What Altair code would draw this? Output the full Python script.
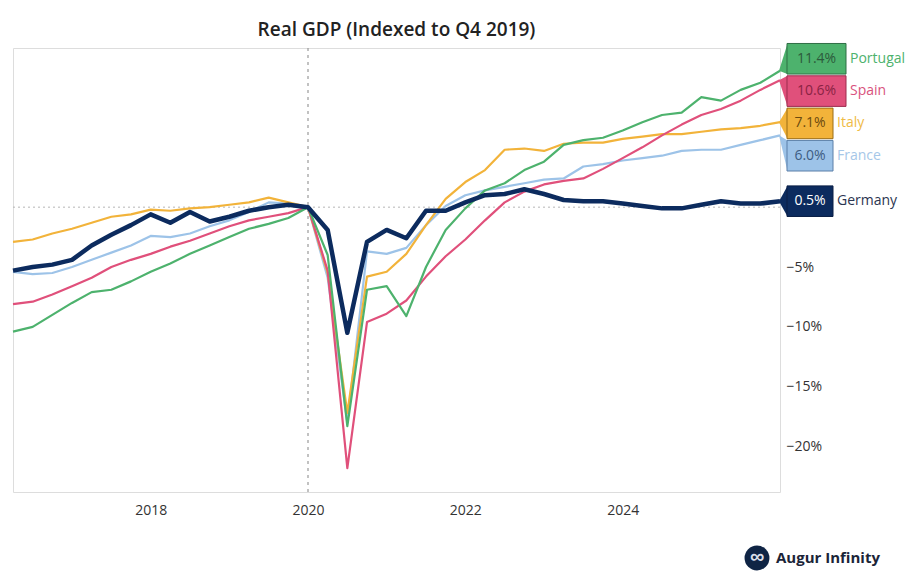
import altair as alt
import pandas as pd

# ---------------- data ----------------
countries = ["Portugal", "Spain", "Italy", "France", "Germany"]
line_colors = ["#4db26d", "#e0507b", "#f2b33a", "#9dc3e8", "#0c2b5e"]
name_colors = ["#4db26d", "#d9527d", "#efbb45", "#a6c7e8", "#2b3550"]
box_text_colors = ["#2c5a3b", "#8a2344", "#6b4a0e", "#3e5d82", "#ffffff"]
box_stroke_colors = ["#2f6e45", "#9b2c4e", "#9a6d14", "#5a7fa8", "#0a1f45"]

# quarterly observations Q1 2016 ... Q4 2025, % vs Q4 2019
portugal = [-10.4, -10.0, -9.0, -8.0, -7.1, -6.9, -6.2, -5.4, -4.7, -3.9,
            -3.2, -2.5, -1.8, -1.4, -0.9, 0.0, -4.0, -18.3, -6.9, -6.6,
            -9.1, -5.0, -1.9, -0.1, 1.4, 2.0, 3.1, 3.8, 5.2, 5.6,
            5.8, 6.4, 7.1, 7.7, 7.9, 9.2, 8.9, 9.8, 10.4, 11.4]
spain = [-8.1, -7.9, -7.3, -6.6, -5.9, -5.0, -4.4, -3.9, -3.3, -2.8,
         -2.2, -1.6, -1.1, -0.8, -0.5, 0.0, -5.3, -21.8, -9.6, -8.9,
         -7.8, -5.8, -4.1, -2.7, -1.1, 0.4, 1.3, 1.9, 2.2, 2.4,
         3.2, 4.1, 5.0, 6.0, 6.9, 7.7, 8.2, 8.9, 9.8, 10.6]
italy = [-2.9, -2.7, -2.2, -1.8, -1.3, -0.8, -0.6, -0.2, -0.3, -0.1,
         0.0, 0.2, 0.4, 0.8, 0.4, 0.0, -5.5, -17.2, -5.8, -5.4,
         -3.9, -1.5, 0.7, 2.1, 3.1, 4.8, 4.9, 4.7, 5.3, 5.4,
         5.4, 5.7, 5.9, 6.1, 6.1, 6.3, 6.5, 6.6, 6.8, 7.1]
france = [-5.4, -5.6, -5.5, -5.0, -4.4, -3.8, -3.2, -2.4, -2.5, -2.2,
          -1.6, -1.1, -0.4, 0.4, 0.3, 0.0, -5.9, -18.0, -3.7, -3.9,
          -3.4, -1.5, 0.1, 1.0, 1.4, 1.7, 2.0, 2.3, 2.4, 3.4,
          3.6, 3.9, 4.1, 4.3, 4.7, 4.8, 4.8, 5.2, 5.6, 6.0]
germany = [-5.3, -5.0, -4.8, -4.4, -3.2, -2.3, -1.5, -0.6, -1.3, -0.4,
           -1.2, -0.8, -0.3, 0.0, 0.2, 0.0, -1.9, -10.5, -2.9, -1.9,
           -2.6, -0.3, -0.3, 0.4, 1.0, 1.1, 1.5, 1.1, 0.6, 0.5,
           0.5, 0.3, 0.1, -0.1, -0.1, 0.2, 0.5, 0.3, 0.3, 0.5]
end_labels = ["11.4%", "10.6%", "7.1%", "6.0%", "0.5%"]
x_ticks = [2018, 2020, 2022, 2024]
y_ticks = [-20, -15, -10, -5]

series = [portugal, spain, italy, france, germany]
draw_order = ["France", "Italy", "Spain", "Portugal"]

# ---------------- layout constants ----------------
W, H = 767, 444
X_MIN, X_MAX = 2016.25, 2026.0
Y_MIN, Y_MAX = -23.8, 13.3
px_x = W / (X_MAX - X_MIN)
px_y = H / (Y_MAX - Y_MIN)

n = len(portugal)
t_vals = [X_MIN + 0.25 * i for i in range(n)]  # quarter-end positions

rows = []
for c, vals in zip(countries, series):
    for t, v in zip(t_vals, vals):
        rows.append({"country": c, "t": t, "v": v})
df = pd.DataFrame(rows)

# label placement (dodge)
ends = [s[-1] for s in series]
order = sorted(range(len(countries)), key=lambda k: -ends[k])
pos = [ends[k] for k in order]
G = 2.7
for _ in range(300):
    for j in range(len(pos) - 1):
        d = pos[j] - pos[j + 1]
        if d < G:
            s = (G - d) / 2
            pos[j] += s
            pos[j + 1] -= s
top_limit = 12.4
pos[0] = min(pos[0], top_limit)
for j in range(1, len(pos)):
    pos[j] = min(pos[j], pos[j - 1] - G)
label_y = {order[j]: pos[j] for j in range(len(pos))}

half_h = 15.3 / px_y
lab_rows, tri_rows = [], []
for k, c in enumerate(countries):
    ly = label_y[k]
    w_px = 13 * len(end_labels[k]) - 6
    left = X_MAX + 7 / px_x
    right = left + w_px / px_x
    lab_rows.append({
        "country": c, "ly": ly, "top": ly + half_h, "bot": ly - half_h,
        "left": left, "right": right, "mid": (left + right) / 2,
        "name_x": right + 4 / px_x, "txt": end_labels[k],
    })
    tri_rows.append({"country": c, "t": X_MAX - 1 / px_x, "lo": ends[k], "hi": ends[k]})
    tri_rows.append({"country": c, "t": left + 0.5 / px_x, "lo": ly - half_h, "hi": ly + half_h})
lab_df = pd.DataFrame(lab_rows)
tri_df = pd.DataFrame(tri_rows)

xscale = alt.Scale(domain=[X_MIN, X_MAX], nice=False, zero=False)
yscale = alt.Scale(domain=[Y_MIN, Y_MAX], nice=False, zero=False)
cscale = alt.Scale(domain=countries, range=line_colors)

x_axis = alt.Axis(values=x_ticks, format="d", title=None, grid=False, domain=False,
                  ticks=False, labelPadding=11, labelFont="Open Sans",
                  labelFontSize=14, labelColor="#333")
y_axis = alt.Axis(orient="right", values=y_ticks, labelExpr="datum.label + '%'",
                  title=None, grid=False, domain=False, ticks=False, labelPadding=6,
                  labelFont="Open Sans", labelFontSize=14, labelColor="#333")

zero_rule = alt.Chart(pd.DataFrame({"v": [0]})).mark_rule(
    color="#b5b5b5", strokeDash=[2, 3], strokeWidth=1
).encode(y=alt.Y("v:Q", scale=yscale, axis=y_axis))

v_rule = alt.Chart(pd.DataFrame({"t": [2020.0]})).mark_rule(
    color="#9a9a9a", strokeDash=[3, 4], strokeWidth=1.2
).encode(x=alt.X("t:Q", scale=xscale, axis=x_axis))

base = alt.Chart(df)
other_layers = []
for c in draw_order:
    other_layers.append(
        base.transform_filter(alt.datum.country == c).mark_line(
            strokeWidth=2.2, strokeJoin="round"
        ).encode(
            x=alt.X("t:Q", scale=xscale, axis=x_axis),
            y=alt.Y("v:Q", scale=yscale, axis=y_axis),
            color=alt.Color("country:N", scale=cscale, legend=None),
        )
    )
ger = base.transform_filter(alt.datum.country == "Germany").mark_line(
    strokeWidth=4.5, strokeJoin="round"
).encode(
    x=alt.X("t:Q", scale=xscale),
    y=alt.Y("v:Q", scale=yscale),
    color=alt.Color("country:N", scale=cscale, legend=None),
)

tri = alt.Chart(tri_df).mark_area(opacity=1).encode(
    x=alt.X("t:Q", scale=xscale),
    y=alt.Y("lo:Q", scale=yscale),
    y2="hi:Q",
    color=alt.Color("country:N", scale=cscale, legend=None),
    detail="country:N",
)
boxes = alt.Chart(lab_df).mark_rect(strokeWidth=1).encode(
    x=alt.X("left:Q", scale=xscale), x2="right:Q",
    y=alt.Y("bot:Q", scale=yscale), y2="top:Q",
    color=alt.Color("country:N", scale=cscale, legend=None),
    stroke=alt.Stroke("country:N", scale=alt.Scale(domain=countries, range=box_stroke_colors), legend=None),
)
box_text = alt.Chart(lab_df).mark_text(
    font="Open Sans", fontSize=14, align="center", baseline="middle"
).encode(
    x=alt.X("mid:Q", scale=xscale), y=alt.Y("ly:Q", scale=yscale), text="txt:N",
    color=alt.Color("country:N", scale=alt.Scale(domain=countries, range=box_text_colors), legend=None),
)
name_text = alt.Chart(lab_df).mark_text(
    font="Open Sans", fontSize=14, align="left", baseline="middle"
).encode(
    x=alt.X("name_x:Q", scale=xscale), y=alt.Y("ly:Q", scale=yscale), text="country:N",
    color=alt.Color("country:N", scale=alt.Scale(domain=countries, range=name_colors), legend=None),
)

one = alt.Data(values=[{"a": 1}])
logo_circle = alt.Chart(one).mark_circle(size=620, color="#0f2444", opacity=1).encode(
    x=alt.value(744), y=alt.value(510))
logo_sym = alt.Chart(one).mark_text(text="∞", fontSize=20, fontWeight="bold",
                                    color="#d9dde8", baseline="middle").encode(
    x=alt.value(744), y=alt.value(509))
logo_text = alt.Chart(one).mark_text(text="Augur Infinity", font="Open Sans", fontSize=15,
                                     fontWeight="bold", color="#1b2438", align="left",
                                     baseline="middle").encode(
    x=alt.value(763), y=alt.value(510))

chart = alt.layer(
    zero_rule, v_rule, *other_layers, ger, tri, boxes, box_text, name_text,
    logo_circle, logo_sym, logo_text
).resolve_scale(color="independent", stroke="independent").properties(
    width=W, height=H,
    title=alt.Title("Real GDP (Indexed to Q4 2019)", font="Open Sans", fontSize=19,
                    fontWeight=600, color="#222", anchor="middle", offset=3),
    autosize=alt.AutoSizeParams(type="none"),
    padding={"left": 5, "top": 40, "right": 128, "bottom": 82},
).configure_view(stroke="#dcdcdc", strokeWidth=1.5).configure(background="white")

chart.save("out.html", embed_options={"renderer": "svg", "actions": False})
